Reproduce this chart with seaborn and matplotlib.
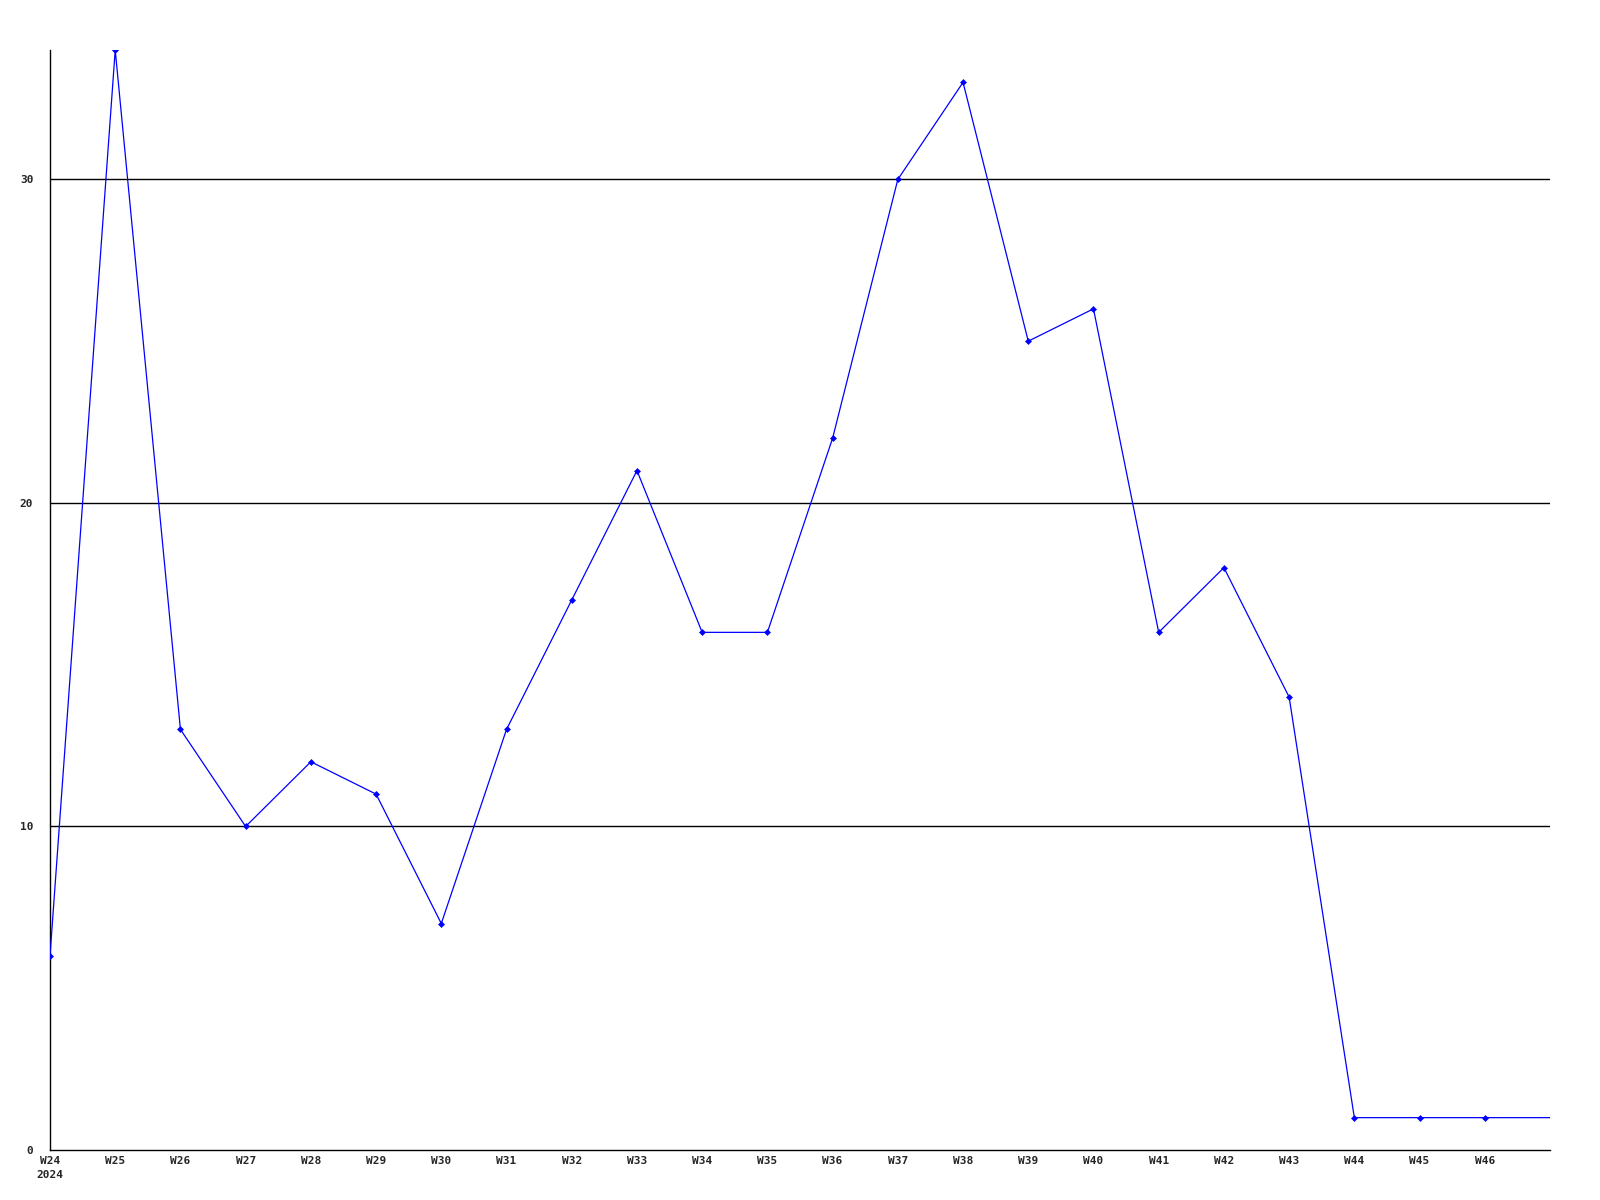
import matplotlib
matplotlib.use("Agg")
import matplotlib.pyplot as plt
import seaborn as sns
import pandas as pd

weeks = ["W24", "W25", "W26", "W27", "W28", "W29", "W30", "W31", "W32", "W33", "W34", "W35",
         "W36", "W37", "W38", "W39", "W40", "W41", "W42", "W43", "W44", "W45", "W46"]
values = [6, 34, 13, 10, 12, 11, 7, 13, 17, 21, 16, 16, 22, 30, 33, 25, 26, 16, 18, 14, 1, 1, 1]
# line continues to the right edge (next week) at the same level
tail_value = 1
y_ticks = [0, 10, 20, 30]

sns.set_style("white")
plt.rcParams['font.family'] = ['DejaVu Sans Mono', 'DejaVu Sans']

df = pd.DataFrame({"x": list(range(len(weeks))), "v": values})
df_full = pd.DataFrame({"x": list(range(len(weeks) + 1)), "v": values + [tail_value]})

fig = plt.figure(figsize=(16, 12), dpi=100)
ax = fig.add_axes([50/1600, 1 - 1150/1200, 1500/1600, 1100/1200])

for y in y_ticks[1:]:
    ax.axhline(y, color="black", lw=1.0, zorder=1)

sns.lineplot(data=df_full, x="x", y="v", ax=ax, color="#0000ff", lw=0.9, zorder=3)
sns.scatterplot(data=df, x="x", y="v", ax=ax, color="#0000ff", marker="D", s=9,
                edgecolor="#0000ff", linewidth=0.5, zorder=4)

ax.set_xlim(0, len(weeks))
ax.set_ylim(0, 34)
ax.set_xticks(range(len(weeks)))
labels = [w if i > 0 else w + "\n2024" for i, w in enumerate(weeks)]
ax.set_xticklabels(labels, fontsize=8, fontweight="bold", linespacing=1.5)
ax.set_yticks(y_ticks)
ax.set_yticklabels([str(t) for t in y_ticks], fontsize=8, fontweight="bold")
for lbl in ax.get_xticklabels():
    lbl.set_horizontalalignment("center")
ax.tick_params(axis="both", length=0, pad=4)
ax.tick_params(axis="y", pad=12)
ax.set_xlabel("")
ax.set_ylabel("")
for s in ["top", "right"]:
    ax.spines[s].set_visible(False)
for s in ["left", "bottom"]:
    ax.spines[s].set_color("black")
    ax.spines[s].set_linewidth(1.0)

fig.savefig("out.png", dpi=100, facecolor="white")
